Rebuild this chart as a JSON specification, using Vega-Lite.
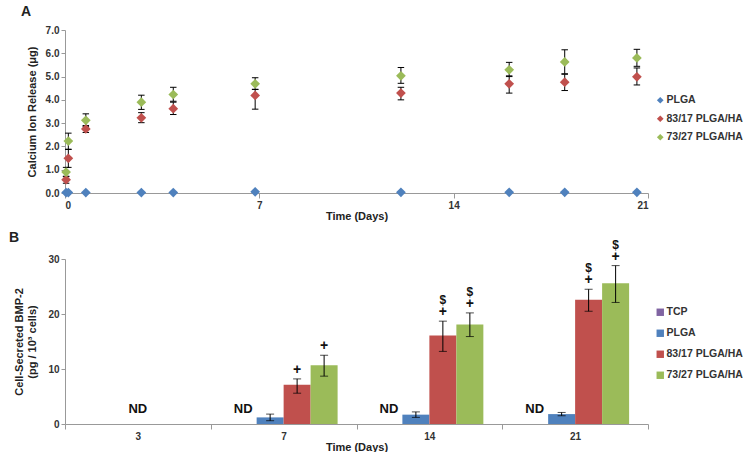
{
  "$schema": "https://vega.github.io/schema/vega-lite/v6.json",
  "padding": {"left": 8, "top": 5, "right": 0, "bottom": 0},
  "background": "white",
  "config": {
    "font": "Liberation Sans",
    "view": {"stroke": null},
    "axis": {"labelFontWeight": "bold", "titleFontWeight": "bold", "labelFont": "Liberation Sans", "titleFont": "Liberation Sans", "labelColor": "#333333", "titleColor": "#222222", "domainColor": "#999999", "tickColor": "#999999", "grid": false, "labelFontSize": 10, "titleFontSize": 11, "labelOverlap": false},
    "legend": {"labelFont": "Liberation Sans", "labelFontWeight": "bold", "labelFontSize": 10.5, "labelColor": "#333333", "padding": 0},
    "title": {"font": "Liberation Sans"}
  },
  "spacing": 9,
  "resolve": {"scale": {"color": "independent", "x": "independent", "y": "independent"}, "legend": {"color": "independent"}},
  "vconcat": [
    {
      "title": {"text": "A", "anchor": "start", "frame": "bounds", "fontSize": 14, "fontWeight": "bold", "offset": 6, "dx": -5, "color": "#222222"},
      "width": 583,
      "height": 163,
      "data": {"values": [
        {"series": "PLGA", "day": 0.04, "value": 0.02},
        {"series": "PLGA", "day": 0.12, "value": 0.02},
        {"series": "PLGA", "day": 0.75, "value": 0.02},
        {"series": "PLGA", "day": 2.75, "value": 0.02},
        {"series": "PLGA", "day": 3.9, "value": 0.02},
        {"series": "PLGA", "day": 6.85, "value": 0.05},
        {"series": "PLGA", "day": 12.1, "value": 0.03},
        {"series": "PLGA", "day": 16, "value": 0.03},
        {"series": "PLGA", "day": 18, "value": 0.03},
        {"series": "PLGA", "day": 20.6, "value": 0.03},
        {"series": "83/17 PLGA/HA", "day": 0.04, "value": 0.57, "lo": 0.42, "hi": 0.72},
        {"series": "83/17 PLGA/HA", "day": 0.12, "value": 1.49, "lo": 1.1, "hi": 1.87},
        {"series": "83/17 PLGA/HA", "day": 0.75, "value": 2.75, "lo": 2.6, "hi": 2.9},
        {"series": "83/17 PLGA/HA", "day": 2.75, "value": 3.23, "lo": 3.02, "hi": 3.45},
        {"series": "83/17 PLGA/HA", "day": 3.9, "value": 3.62, "lo": 3.37, "hi": 3.9},
        {"series": "83/17 PLGA/HA", "day": 6.85, "value": 4.19, "lo": 3.6, "hi": 4.45},
        {"series": "83/17 PLGA/HA", "day": 12.1, "value": 4.29, "lo": 4.0, "hi": 4.54},
        {"series": "83/17 PLGA/HA", "day": 16, "value": 4.69, "lo": 4.29, "hi": 5.0},
        {"series": "83/17 PLGA/HA", "day": 18, "value": 4.76, "lo": 4.4, "hi": 5.1},
        {"series": "83/17 PLGA/HA", "day": 20.6, "value": 4.99, "lo": 4.64, "hi": 5.37},
        {"series": "73/27 PLGA/HA", "day": 0.04, "value": 0.9, "lo": 0.7, "hi": 1.1},
        {"series": "73/27 PLGA/HA", "day": 0.12, "value": 2.23, "lo": 1.88, "hi": 2.57},
        {"series": "73/27 PLGA/HA", "day": 0.75, "value": 3.12, "lo": 2.85, "hi": 3.4},
        {"series": "73/27 PLGA/HA", "day": 2.75, "value": 3.9, "lo": 3.59, "hi": 4.2},
        {"series": "73/27 PLGA/HA", "day": 3.9, "value": 4.23, "lo": 3.94, "hi": 4.54},
        {"series": "73/27 PLGA/HA", "day": 6.85, "value": 4.69, "lo": 4.45, "hi": 4.95},
        {"series": "73/27 PLGA/HA", "day": 12.1, "value": 5.03, "lo": 4.71, "hi": 5.39},
        {"series": "73/27 PLGA/HA", "day": 16, "value": 5.29, "lo": 5.03, "hi": 5.61},
        {"series": "73/27 PLGA/HA", "day": 18, "value": 5.63, "lo": 5.12, "hi": 6.15},
        {"series": "73/27 PLGA/HA", "day": 20.6, "value": 5.8, "lo": 5.44, "hi": 6.17}
      ]},
      "encoding": {
        "x": {"field": "day", "type": "quantitative", "scale": {"domain": [0, 21], "nice": false, "padding": 0}, "axis": {"title": "Time (Days)", "values": [0, 7, 14, 21], "tickSize": 5, "labelPadding": 2, "titlePadding": 0}}
      },
      "layer": [
        {
          "transform": [{"filter": "datum.lo != null"}],
          "mark": {"type": "rule", "color": "black", "strokeWidth": 1},
          "encoding": {
            "y": {"field": "lo", "type": "quantitative", "scale": {"domain": [0, 7], "nice": false, "padding": 0}, "axis": {"title": "Calcium Ion Release (μg)", "values": [0, 1, 2, 3, 4, 5, 6, 7], "format": ".1f", "tickSize": 4, "titlePadding": 8}},
            "y2": {"field": "hi"}
          }
        },
        {
          "transform": [{"filter": "datum.lo != null"}],
          "mark": {"type": "point", "shape": "stroke", "filled": false, "color": "black", "size": 42, "strokeWidth": 1, "opacity": 1},
          "encoding": {"y": {"field": "hi", "type": "quantitative", "scale": {"domain": [0, 7], "nice": false, "padding": 0}, "axis": {"title": "Calcium Ion Release (μg)", "values": [0, 1, 2, 3, 4, 5, 6, 7], "format": ".1f", "tickSize": 4, "titlePadding": 8}}}
        },
        {
          "transform": [{"filter": "datum.lo != null"}],
          "mark": {"type": "point", "shape": "stroke", "filled": false, "color": "black", "size": 42, "strokeWidth": 1, "opacity": 1},
          "encoding": {"y": {"field": "lo", "type": "quantitative", "scale": {"domain": [0, 7], "nice": false, "padding": 0}, "axis": {"title": "Calcium Ion Release (μg)", "values": [0, 1, 2, 3, 4, 5, 6, 7], "format": ".1f", "tickSize": 4, "titlePadding": 8}}}
        },
        {
          "mark": {"type": "point", "shape": "diamond", "filled": true, "size": 95, "opacity": 1},
          "encoding": {
            "y": {"field": "value", "type": "quantitative", "scale": {"domain": [0, 7], "nice": false, "padding": 0}, "axis": {"title": "Calcium Ion Release (μg)", "values": [0, 1, 2, 3, 4, 5, 6, 7], "format": ".1f", "tickSize": 4, "titlePadding": 8}},
            "color": {"field": "series", "type": "nominal", "scale": {"domain": ["PLGA", "83/17 PLGA/HA", "73/27 PLGA/HA"], "range": ["#4F81BD", "#C0504D", "#9BBB59"]}, "legend": {"title": null, "orient": "none", "legendX": 590, "legendY": 65, "symbolType": "diamond", "symbolSize": 45, "rowPadding": 7.5, "labelOffset": 1, "symbolStrokeWidth": 0}}
          }
        }
      ]
    },
    {
      "title": {"text": "B", "anchor": "start", "frame": "bounds", "fontSize": 14, "fontWeight": "bold", "offset": -6, "dx": -5, "color": "#222222"},
      "width": 583,
      "height": 165,
      "data": {"values": [
        {"day": "7", "group": "PLGA", "value": 1.2, "lo": 0.6, "hi": 1.8, "plus": "", "dollar": ""},
        {"day": "7", "group": "83/17 PLGA/HA", "value": 7.15, "lo": 5.6, "hi": 8.2, "plus": "+", "dollar": ""},
        {"day": "7", "group": "73/27 PLGA/HA", "value": 10.7, "lo": 8.7, "hi": 12.5, "plus": "+", "dollar": ""},
        {"day": "14", "group": "PLGA", "value": 1.7, "lo": 1.2, "hi": 2.2, "plus": "", "dollar": ""},
        {"day": "14", "group": "83/17 PLGA/HA", "value": 16.1, "lo": 13.2, "hi": 18.7, "plus": "+", "dollar": "$"},
        {"day": "14", "group": "73/27 PLGA/HA", "value": 18.1, "lo": 15.9, "hi": 20.2, "plus": "+", "dollar": "$"},
        {"day": "21", "group": "PLGA", "value": 1.8, "lo": 1.5, "hi": 2.1, "plus": "", "dollar": ""},
        {"day": "21", "group": "83/17 PLGA/HA", "value": 22.6, "lo": 20.5, "hi": 24.5, "plus": "+", "dollar": "$"},
        {"day": "21", "group": "73/27 PLGA/HA", "value": 25.6, "lo": 22.1, "hi": 28.8, "plus": "+", "dollar": "$"}
      ]},
      "encoding": {
        "x": {"field": "day", "type": "nominal", "sort": null, "scale": {"domain": ["3", "7", "14", "21"], "paddingInner": 0, "paddingOuter": 0}, "axis": {"title": "Time (Days)", "labelAngle": 0, "tickBand": "extent", "tickSize": 5, "labelPadding": 2, "titlePadding": 0}}
      },
      "layer": [
        {
          "mark": {"type": "bar"},
          "encoding": {
            "xOffset": {"field": "group", "type": "nominal", "scale": {"domain": ["TCP", "PLGA", "83/17 PLGA/HA", "73/27 PLGA/HA"], "paddingInner": 0, "paddingOuter": 0.7}},
            "y": {"field": "value", "type": "quantitative", "scale": {"domain": [0, 30], "nice": false, "padding": 0}, "axis": {"title": ["Cell-Secreted  BMP-2", "(pg / 10³ cells)"], "values": [0, 5, 10, 15, 20, 25, 30], "tickSize": 4, "titlePadding": 10}},
            "color": {"field": "group", "type": "nominal", "scale": {"domain": ["TCP", "PLGA", "83/17 PLGA/HA", "73/27 PLGA/HA"], "range": ["#8064A2", "#4F81BD", "#C0504D", "#9BBB59"]}, "legend": {"title": null, "orient": "none", "legendX": 590, "legendY": 48, "symbolType": "square", "symbolSize": 55, "rowPadding": 10, "labelOffset": 1, "symbolStrokeWidth": 0}}
          }
        },
        {
          "mark": {"type": "rule", "color": "black", "strokeWidth": 1},
          "encoding": {
            "xOffset": {"field": "group", "type": "nominal"},
            "y": {"field": "lo", "type": "quantitative", "scale": {"domain": [0, 30], "nice": false, "padding": 0}, "axis": {"title": ["Cell-Secreted  BMP-2", "(pg / 10³ cells)"], "values": [0, 5, 10, 15, 20, 25, 30], "tickSize": 4, "titlePadding": 10}},
            "y2": {"field": "hi"}
          }
        },
        {
          "mark": {"type": "tick", "orient": "horizontal", "color": "black", "size": 8, "thickness": 1},
          "encoding": {"xOffset": {"field": "group", "type": "nominal"}, "y": {"field": "hi", "type": "quantitative", "scale": {"domain": [0, 30], "nice": false, "padding": 0}, "axis": {"title": ["Cell-Secreted  BMP-2", "(pg / 10³ cells)"], "values": [0, 5, 10, 15, 20, 25, 30], "tickSize": 4, "titlePadding": 10}}}
        },
        {
          "mark": {"type": "tick", "orient": "horizontal", "color": "black", "size": 8, "thickness": 1},
          "encoding": {"xOffset": {"field": "group", "type": "nominal"}, "y": {"field": "lo", "type": "quantitative", "scale": {"domain": [0, 30], "nice": false, "padding": 0}, "axis": {"title": ["Cell-Secreted  BMP-2", "(pg / 10³ cells)"], "values": [0, 5, 10, 15, 20, 25, 30], "tickSize": 4, "titlePadding": 10}}}
        },
        {
          "mark": {"type": "text", "fontSize": 14, "fontWeight": "bold", "baseline": "middle", "dy": -9, "color": "#111111"},
          "encoding": {"xOffset": {"field": "group", "type": "nominal"}, "y": {"field": "hi", "type": "quantitative", "scale": {"domain": [0, 30], "nice": false, "padding": 0}, "axis": {"title": ["Cell-Secreted  BMP-2", "(pg / 10³ cells)"], "values": [0, 5, 10, 15, 20, 25, 30], "tickSize": 4, "titlePadding": 10}}, "text": {"field": "plus"}}
        },
        {
          "mark": {"type": "text", "fontSize": 12, "fontWeight": "bold", "baseline": "middle", "dy": -21, "color": "#111111"},
          "encoding": {"xOffset": {"field": "group", "type": "nominal"}, "y": {"field": "hi", "type": "quantitative", "scale": {"domain": [0, 30], "nice": false, "padding": 0}, "axis": {"title": ["Cell-Secreted  BMP-2", "(pg / 10³ cells)"], "values": [0, 5, 10, 15, 20, 25, 30], "tickSize": 4, "titlePadding": 10}}, "text": {"field": "dollar"}}
        },
        {
          "data": {"values": [{"day": "3", "label": "ND"}]},
          "mark": {"type": "text", "fontSize": 13, "fontWeight": "bold", "baseline": "bottom", "dy": -8, "color": "#111111"},
          "encoding": {"y": {"datum": 0, "type": "quantitative"}, "text": {"field": "label"}}
        },
        {
          "data": {"values": [{"day": "7", "group": "TCP", "label": "ND"}, {"day": "14", "group": "TCP", "label": "ND"}, {"day": "21", "group": "TCP", "label": "ND"}]},
          "mark": {"type": "text", "fontSize": 13, "fontWeight": "bold", "baseline": "bottom", "dy": -8, "color": "#111111"},
          "encoding": {"xOffset": {"field": "group", "type": "nominal"}, "y": {"datum": 0, "type": "quantitative"}, "text": {"field": "label"}}
        }
      ]
    }
  ]
}
